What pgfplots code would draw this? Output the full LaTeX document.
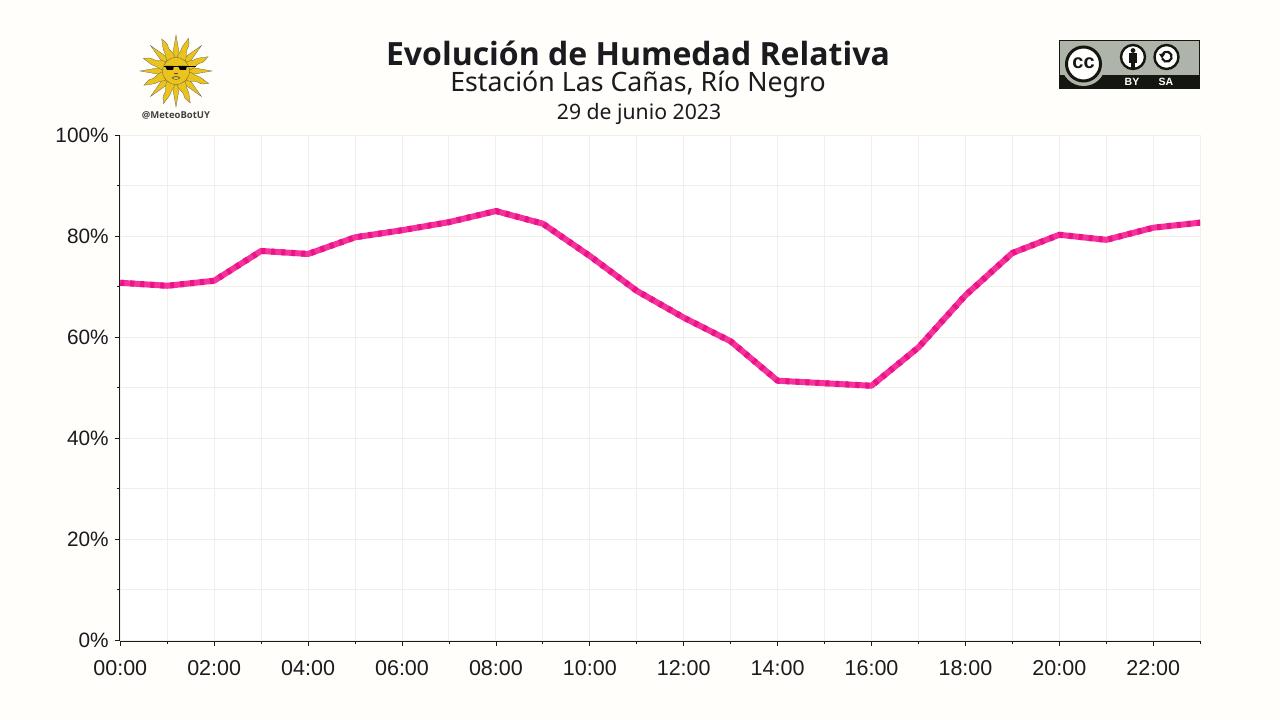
\documentclass[border=0pt]{standalone}
\usepackage{pgfplots}
\pgfplotsset{compat=1.18}
\usepackage{fontspec}
\setmainfont{Liberation Sans}
\newfontfamily\notosans{Noto Sans}
\newfontfamily\notobold{Open Sans}
\definecolor{bgcol}{HTML}{FFFEFA}
\definecolor{gridcol}{HTML}{F0EFE8}
\definecolor{inkcol}{HTML}{1A1A1F}
\definecolor{linecol}{HTML}{F4349B}
\definecolor{linedark}{HTML}{EC1289}
\definecolor{sunfill}{HTML}{EBC31A}
\definecolor{ccgrey}{HTML}{AEB4A9}
\definecolor{ccblack}{HTML}{14160F}
\pgfplotstableread{
h hum
0 70.8
1 70.2
2 71.2
3 77.1
4 76.5
5 79.8
6 81.2
7 82.8
8 85.0
9 82.5
10 76.1
11 69.2
12 63.9
13 59.2
14 51.4
15 50.9
16 50.4
17 58.0
18 68.3
19 76.7
20 80.3
21 79.3
22 81.7
23 82.7
}\humtable
\begin{document}
\begin{tikzpicture}[x=1pt,y=1pt]
% page background, 1280x720
\fill[bgcol] (0,0) rectangle (1280,720);

\begin{axis}[
    at={(119.7pt,79pt)},
    anchor=south west,
    scale only axis,
    width=1080.5pt,
    height=505.7pt,
    xmin=-0.0125, xmax=23,
    ymin=-0.139, ymax=100,
    axis background/.style={fill=white},
    axis x line*=bottom,
    axis y line*=left,
    axis line style={inkcol,line width=0.9pt,-},
    xtick={0,2,...,22},
    xticklabels={00:00,02:00,04:00,06:00,08:00,10:00,12:00,14:00,16:00,18:00,20:00,22:00},
    minor xtick={1,3,...,23},
    ytick={0,20,...,100},
    yticklabels={0\%,20\%,40\%,60\%,80\%,100\%},
    minor ytick={10,30,...,90},
    grid=both,
    major grid style={gridcol,line width=1pt},
    minor grid style={gridcol,line width=1pt},
    tick style={inkcol,line width=0.8pt},
    tick align=outside,
    major tick length=5pt,
    minor tick length=3pt,
    xticklabel style={font=\fontsize{21.5}{21.5}\selectfont,text=inkcol,yshift=-10.5pt},
    yticklabel style={font=\fontsize{20.8}{20.8}\selectfont,text=inkcol,xshift=-2.5pt},
    clip=true,
]
\addplot[linecol,line width=6pt,line join=round] table[x=h,y=hum] {\humtable};
\addplot[linedark,line width=6pt,line join=round,dash pattern=on 4pt off 6pt] table[x=h,y=hum] {\humtable};
\end{axis}

% titles
\node[font=\notobold\bfseries\fontsize{32}{32}\selectfont,text=inkcol] at (638,667) {Evolución de Humedad Relativa};
\node[font=\notosans\fontsize{26.7}{26.7}\selectfont,text=inkcol] at (638,636) {Estación Las Cañas, Río Negro};
\node[font=\notosans\fontsize{21.2}{21.2}\selectfont,text=inkcol] at (639,606) {29 de junio 2023};

% sun logo
\begin{scope}[shift={(176,649)}]
  \foreach \a in {0,45,...,315} {
    \fill[sunfill,draw=black!60,line width=0.3pt,rotate=\a]
      (13,-4) -- (36,0) -- (13,4) -- cycle;
  }
  \foreach \a in {22.5,67.5,...,337.5} {
    \fill[sunfill,draw=black!60,line width=0.3pt,rotate=\a]
      (13,-4.5) .. controls (19,-5) and (22,-1) .. (25,-2)
      .. controls (29,-3) and (31,-1) .. (35,1)
      .. controls (29,2) and (26,4) .. (22,3.5)
      .. controls (18,3) and (16,5) .. (13,4.5) -- cycle;
  }
  \fill[sunfill,draw=black!60,line width=0.3pt] (0,0) circle (13.5);
  % sunglasses
  \draw[black,line width=0.9pt] (-12,5) -- (20,5);
  \fill[black] (-11,5) -- (-2,5) -- (-3,1) -- (-9,1) -- cycle;
  \fill[black] (2,5) -- (11,5) -- (10,1) -- (4,1) -- cycle;
  \draw[black!70,line width=0.6pt] (-4,-7) .. controls (-1,-5) and (1,-5) .. (4,-7);
  \draw[black!70,line width=0.4pt] (-4,-7) .. controls (-1,-9) and (1,-9) .. (4,-7);
  \draw[black!70,line width=0.4pt] (-2,-2) -- (2,-2);
\end{scope}
\node[font=\notobold\bfseries\fontsize{9.5}{9.5}\selectfont,text=black!75] at (176,604.5) {@MeteoBotUY};

% cc by-sa badge
\begin{scope}
  \fill[ccblack] (1059,631) rectangle (1200,680);
  \fill[ccgrey] (1060,645) rectangle (1199,679);
  \fill[ccgrey] (1083.5,656) circle (22);
  \fill[white,draw=ccblack,line width=3pt] (1083.5,656) circle (17);
  \node[font=\bfseries\fontsize{20}{20}\selectfont,text=ccblack] at (1083.5,657) {cc};
  \fill[white,draw=ccblack,line width=2.4pt] (1133,663) circle (12);
  \fill[ccblack] (1133,669.5) circle (2.4);
  \fill[ccblack] (1129,657) rectangle (1137,667);
  \fill[ccblack] (1131,652) rectangle (1135,658);
  \fill[white,draw=ccblack,line width=2.4pt] (1166.5,663) circle (12);
  \draw[ccblack,line width=2.2pt] (1162,665) arc[start angle=160,end angle=-160,radius=5];
  \fill[ccblack] (1159,666) -- (1165,666) -- (1162,661.5) -- cycle;
  \node[font=\bfseries\fontsize{10.5}{10.5}\selectfont,text=white] at (1132,638) {BY};
  \node[font=\bfseries\fontsize{10.5}{10.5}\selectfont,text=white] at (1166,638) {SA};
\end{scope}

\path[use as bounding box] (0,0) rectangle (1280,720);
\end{tikzpicture}
\end{document}
